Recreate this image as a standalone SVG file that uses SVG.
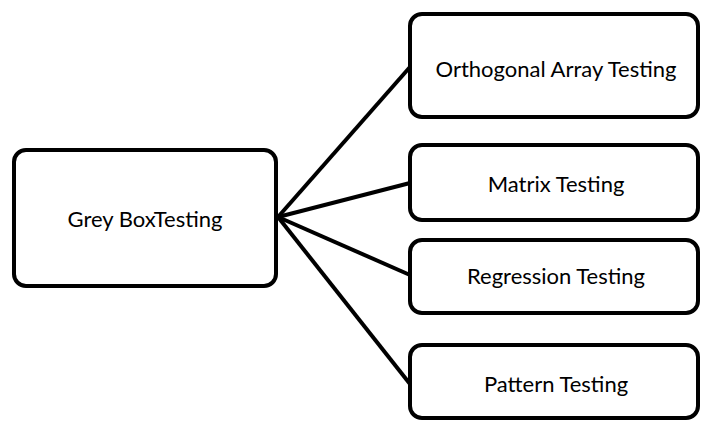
<svg xmlns="http://www.w3.org/2000/svg" width="702" height="422" viewBox="0 0 702 422">
<style>
.box{fill:#fff;stroke:#000;stroke-width:4}
.lbl{font-family:Lato,"Open Sans",sans-serif;font-size:22px;fill:#000;text-anchor:middle;dominant-baseline:central}
.con{stroke:#000;stroke-width:4;fill:none}
</style>
<rect width="702" height="422" fill="#fff"/>
<g id="connectors">
<line class="con" x1="278" y1="217" x2="410" y2="67"/>
<line class="con" x1="278" y1="217" x2="410" y2="183"/>
<line class="con" x1="278" y1="217" x2="410" y2="275"/>
<line class="con" x1="278" y1="217" x2="410" y2="384"/>
</g>
<g id="grey">
<rect class="box" x="14" y="150" width="262" height="136" rx="12"/>
<text class="lbl" x="145" y="218">Grey BoxTesting</text>
</g>
<g id="orth">
<rect class="box" x="410" y="14" width="288" height="103" rx="12"/>
<text class="lbl" x="556" y="68">Orthogonal Array Testing</text>
</g>
<g id="matrix">
<rect class="box" x="410" y="145" width="288" height="75" rx="12"/>
<text class="lbl" x="556" y="183">Matrix Testing</text>
</g>
<g id="regression">
<rect class="box" x="410" y="240" width="288" height="73" rx="12"/>
<text class="lbl" x="556" y="275">Regression Testing</text>
</g>
<g id="pattern">
<rect class="box" x="410" y="345" width="288" height="73" rx="12"/>
<text class="lbl" x="556" y="383">Pattern Testing</text>
</g>
</svg>
